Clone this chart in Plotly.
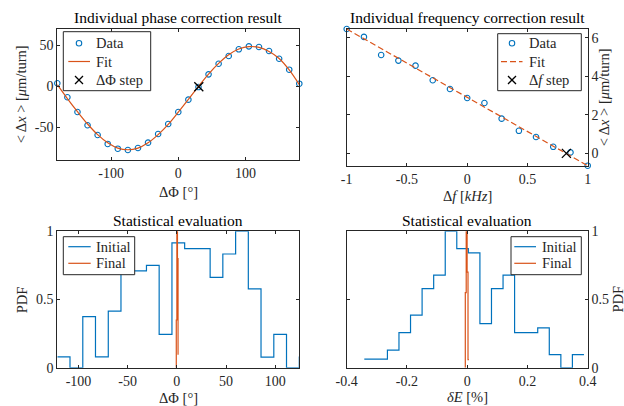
import plotly.graph_objects as go

# ---------------- data ----------------
# Panel 1: individual phase correction
phase_deg = [-180, -165, -150, -135, -120, -105, -90, -75, -60, -45, -30, -15, 0,
             15, 30, 45, 60, 75, 90, 105, 120, 135, 150, 165, 180]
phase_dx = [3.7, -13.4, -31.4, -47.6, -59.5, -70.4, -76.2, -77.8, -75.3, -68.8, -58.2, -46.0, -31.4,
            -16.3, -0.9, 14.6, 27.6, 37.0, 45.2, 48.8, 48.0, 43.1, 33.7, 20.3, 3.2]
phase_fit = [2.0, -15.0, -31.0, -46.0, -59.0, -69.0, -75.5, -77.5, -75.5, -69.0, -59.0, -46.5, -31.5,
             -16.0, 0.0, 15.0, 28.0, 38.5, 45.5, 48.5, 47.5, 42.5, 34.0, 20.0, 2.0]
phase_step_x = [30.5]
phase_step_y = [-0.5]

# Panel 2: individual frequency correction
freq_khz = [-1.0, -0.857, -0.714, -0.571, -0.429, -0.286, -0.143, 0.0,
            0.143, 0.286, 0.429, 0.571, 0.714, 0.857, 1.0]
freq_dx = [6.45, 6.04, 5.10, 4.81, 4.55, 3.79, 3.34, 2.87,
           2.61, 1.80, 1.17, 0.85, 0.34, 0.05, -0.64]
freq_fit_x = [-1.0, 1.0]
freq_fit_y = [6.45, -0.64]
freq_step_x = [0.823]
freq_step_y = [0.0]

# Panel 3: statistical evaluation, phase
phase_hist_edges = [-121.5, -108.6, -95.6, -82.7, -69.7, -56.8, -43.9, -30.9, -18.0, -5.0,
                    7.9, 20.8, 33.8, 46.7, 59.7, 72.6, 85.5, 98.5, 111.4, 124.4, 137.3]
phase_hist_initial = [0.08, 0.0, 0.375, 0.08, 0.415, 0.70, 0.71, 0.75, 0.245, 0.914,
                      0.873, 0.873, 0.662, 0.833, 1.0, 0.578, 0.078, 0.245, 0.0, 0.078]
phase_final_edges = [-0.6, 0.0, 0.6, 1.2, 1.8]
phase_final_vals = [0.35, 1.0, 0.8, 0.1]

# Panel 4: statistical evaluation, energy
energy_hist_edges = [-0.3416, -0.3032, -0.2648, -0.2265, -0.1881, -0.1497, -0.1113, -0.0729,
                     -0.0346, 0.0038, 0.0422, 0.0806, 0.1190, 0.1573, 0.1957, 0.2341,
                     0.2725, 0.3109, 0.3492, 0.3876]
energy_hist_initial = [0.064, 0.064, 0.13, 0.258, 0.386, 0.58, 0.678, 1.0, 0.873, 0.841,
                       0.324, 0.58, 0.678, 0.258, 0.258, 0.293, 0.097, 0.0, 0.097]
energy_final_edges = [-0.0063, -0.0033, -0.0003, 0.0027, 0.0057]
energy_final_vals = [0.55, 1.0, 0.7, 0.06]

# tick labels
t1x = [-100, 0, 100]; t1xl = ["-100", "0", "100"]
t1y = [-50, 0, 50]; t1yl = ["-50", "0", "50"]
t2x = [-1, -0.5, 0, 0.5, 1]; t2xl = ["-1", "-0.5", "0", "0.5", "1"]
t2y = [0, 2, 4, 6]; t2yl = ["0", "2", "4", "6"]
t3x = [-100, -50, 0, 50, 100]; t3xl = ["-100", "-50", "0", "50", "100"]
t4x = [-0.4, -0.2, 0, 0.2, 0.4]; t4xl = ["-0.4", "-0.2", "0", "0.2", "0.4"]
tpy = [0, 0.5, 1]; tpyl = ["0", "0.5", "1"]

# ---------------- style ----------------
W, H = 624, 406
BLUE = "#0072BD"
ORANGE = "#D95319"
AX = "#262626"
FONT = "Liberation Serif"


def px_x(p):
    return p / W


def px_y(p):
    return 1 - p / H


def stairs(edges, vals, rise_from_zero=False):
    n = len(vals)
    xs = list(edges[:n]) + [edges[n]]
    ys = list(vals) + [vals[-1]]
    if rise_from_zero:
        xs = [edges[0]] + xs
        ys = [0] + ys
    return xs, ys


fig = go.Figure()
circle_marker = dict(symbol="circle-open", size=5.5, color=BLUE, line=dict(width=1.1, color=BLUE))
x_marker = dict(symbol="x-thin-open", size=9, color="black", line=dict(width=1.3, color="black"))

# Panel 1
fig.add_trace(go.Scatter(x=phase_deg, y=phase_dx, mode="markers", name="Data", marker=circle_marker,
                         xaxis="x", yaxis="y", cliponaxis=False))
fig.add_trace(go.Scatter(x=phase_deg, y=phase_fit, mode="lines", name="Fit", line_shape="spline",
                         line=dict(color=ORANGE, width=1.2), xaxis="x", yaxis="y"))
fig.add_trace(go.Scatter(x=phase_step_x, y=phase_step_y, mode="markers", name="ΔΦ step", marker=x_marker,
                         xaxis="x", yaxis="y", cliponaxis=False))

# Panel 2
fig.add_trace(go.Scatter(x=freq_khz, y=freq_dx, mode="markers", name="Data", marker=circle_marker,
                         xaxis="x2", yaxis="y2", cliponaxis=False))
fig.add_trace(go.Scatter(x=freq_fit_x, y=freq_fit_y, mode="lines", name="Fit",
                         line=dict(color=ORANGE, width=1.2, dash="6px,3px"), xaxis="x2", yaxis="y2"))
fig.add_trace(go.Scatter(x=freq_step_x, y=freq_step_y, mode="markers", name="Δf step", marker=x_marker,
                         xaxis="x2", yaxis="y2", cliponaxis=False))

# Panel 3
xs, ys = stairs(phase_hist_edges, phase_hist_initial)
fig.add_trace(go.Scatter(x=xs, y=ys, mode="lines", line_shape="hv", name="Initial",
                         line=dict(color=BLUE, width=1.2), xaxis="x3", yaxis="y3"))
xs, ys = stairs(phase_final_edges, phase_final_vals, rise_from_zero=True)
fig.add_trace(go.Scatter(x=xs, y=ys, mode="lines", line_shape="hv", name="Final",
                         line=dict(color=ORANGE, width=1.2), xaxis="x3", yaxis="y3"))

# Panel 4
xs, ys = stairs(energy_hist_edges, energy_hist_initial)
fig.add_trace(go.Scatter(x=xs, y=ys, mode="lines", line_shape="hv", name="Initial",
                         line=dict(color=BLUE, width=1.2), xaxis="x4", yaxis="y4"))
xs, ys = stairs(energy_final_edges, energy_final_vals, rise_from_zero=True)
fig.add_trace(go.Scatter(x=xs, y=ys, mode="lines", line_shape="hv", name="Final",
                         line=dict(color=ORANGE, width=1.2), xaxis="x4", yaxis="y4"))

fig.update_traces(showlegend=False, hoverinfo="skip")


def axis(domain, rng, tv, tt, anchor, side=None):
    d = dict(domain=domain, range=rng, tickvals=tv, ticktext=tt, anchor=anchor,
             showline=True, linecolor=AX, linewidth=1, mirror="ticks",
             ticks="inside", ticklen=3, tickcolor=AX, tickwidth=1,
             showgrid=False, zeroline=False, fixedrange=True, automargin=False,
             tickfont=dict(family=FONT, size=14, color=AX))
    if side:
        d["side"] = side
    return d


XL = [px_x(57.3), px_x(299.3)]
XR = [px_x(346.7), px_x(587.7)]

fig.update_layout(
    width=W, height=H, margin=dict(l=0, r=0, t=0, b=0, pad=0, autoexpand=False),
    paper_bgcolor="white", plot_bgcolor="white", showlegend=False,
    font=dict(family=FONT, size=14, color=AX),
    xaxis=axis(XL, [-180, 180], t1x, t1xl, "y"),
    yaxis=axis([px_y(160), px_y(29)], [-90, 70], t1y, t1yl, "x"),
    xaxis2=axis(XR, [-1, 1], t2x, t2xl, "y2"),
    yaxis2=axis([px_y(165.7), px_y(29)], [-0.64, 6.45], t2y, t2yl, "x2", side="right"),
    xaxis3=axis(XL, [-121.5, 124.4], t3x, t3xl, "y3"),
    yaxis3=axis([px_y(367.8), px_y(231.2)], [0, 1], tpy, tpyl, "x3"),
    xaxis4=axis(XR, [-0.4, 0.4], t4x, t4xl, "y4"),
    yaxis4=axis([px_y(367.8), px_y(231.2)], [0, 1], tpy, tpyl, "x4", side="right"),
)

ann = []
shapes = []


def label(text, x, y, angle=0, size=14.5, color=AX, xanchor="center"):
    ann.append(dict(text=text, x=px_x(x), y=px_y(y), xref="paper", yref="paper",
                    showarrow=False, xanchor=xanchor, yanchor="middle", textangle=angle,
                    font=dict(family=FONT, size=size, color=color)))


# ---- legends (box, sample glyphs, text) ----
def legend_box(x0, x1, y0, y1):
    shapes.append(dict(type="rect", xref="paper", yref="paper", layer="above",
                       x0=px_x(x0), x1=px_x(x1), y0=px_y(y1), y1=px_y(y0),
                       fillcolor="white", line=dict(color=AX, width=1)))


def legend_line(x0, x1, y, color, dash="solid"):
    shapes.append(dict(type="line", xref="paper", yref="paper", layer="above",
                       x0=px_x(x0), x1=px_x(x1), y0=px_y(y), y1=px_y(y),
                       line=dict(color=color, width=1.2, dash=dash)))


def legend_circle(cx, cy, r=2.75):
    shapes.append(dict(type="circle", xref="paper", yref="paper", layer="above",
                       x0=px_x(cx - r), x1=px_x(cx + r), y0=px_y(cy + r), y1=px_y(cy - r),
                       line=dict(color=BLUE, width=1.1)))


def legend_cross(cx, cy, r=4.0):
    for a, b in ((-1, 1), (1, -1)):
        shapes.append(dict(type="line", xref="paper", yref="paper", layer="above",
                           x0=px_x(cx - r), x1=px_x(cx + r), y0=px_y(cy + a * r), y1=px_y(cy + b * r),
                           line=dict(color="black", width=1.3)))


# top-left legend
legend_box(63.3, 150.7, 31.7, 90.7)
legend_circle(79, 43.3)
legend_line(68.3, 90, 61.5, ORANGE)
legend_cross(79, 80)
label("Data", 94.3, 43.3, xanchor="left")
label("Fit", 94.3, 61.5, xanchor="left")
label("ΔΦ step", 94.3, 80, xanchor="left")

# top-right legend
legend_box(497.7, 581.3, 33.7, 90.7)
legend_circle(512, 43.3)
legend_line(501, 522.5, 61.7, ORANGE, dash="6px,3px")
legend_cross(512, 80)
label("Data", 527, 43.3, xanchor="left")
label("Fit", 527, 61.7, xanchor="left")
label("Δ<i>f</i> step", 527, 80, xanchor="left")

# bottom-left legend
legend_box(63.3, 134.7, 236.7, 274.7)
legend_line(68.3, 90.7, 246.7, BLUE)
legend_line(68.3, 90.7, 263.3, ORANGE)
label("Initial", 94.3, 246.7, xanchor="left")
label("Final", 94.3, 263.3, xanchor="left")

# bottom-right legend
legend_box(511, 581.3, 236.7, 274.7)
legend_line(514.3, 536, 246.7, BLUE)
legend_line(514.3, 536, 263.3, ORANGE)
label("Initial", 540.3, 246.7, xanchor="left")
label("Final", 540.3, 263.3, xanchor="left")

# ---- titles and axis labels ----
label("Individual phase correction result", 178.3, 17.5, size=15.5, color="black")
label("Individual frequency correction result", 467.2, 17.5, size=15.5, color="black")
label("Statistical evaluation", 178.3, 220.5, size=15.5, color="black")
label("Statistical evaluation", 467.2, 220.5, size=15.5, color="black")
label("ΔΦ [°]", 178.3, 191.5)
label("Δ<i>f</i> [<i>kHz</i>]", 467.2, 196)
label("ΔΦ [°]", 178.3, 398)
label("<i>δE</i> [%]", 467.2, 397)
label("&lt; Δ<i>x</i> &gt; [<i>μ</i>m/turn]", 21.7, 94.5, angle=-90)
label("&lt; Δ<i>x</i> &gt; [<i>μ</i>m/turn]", 604, 97.3, angle=-90)
label("PDF", 21.7, 299.5, angle=-90)
label("PDF", 617, 299.5, angle=-90)
fig.update_layout(annotations=ann, shapes=shapes)

fig.write_html("out.html", config={"displayModeBar": False, "staticPlot": True},
               post_script="document.body.style.margin='0px';")
